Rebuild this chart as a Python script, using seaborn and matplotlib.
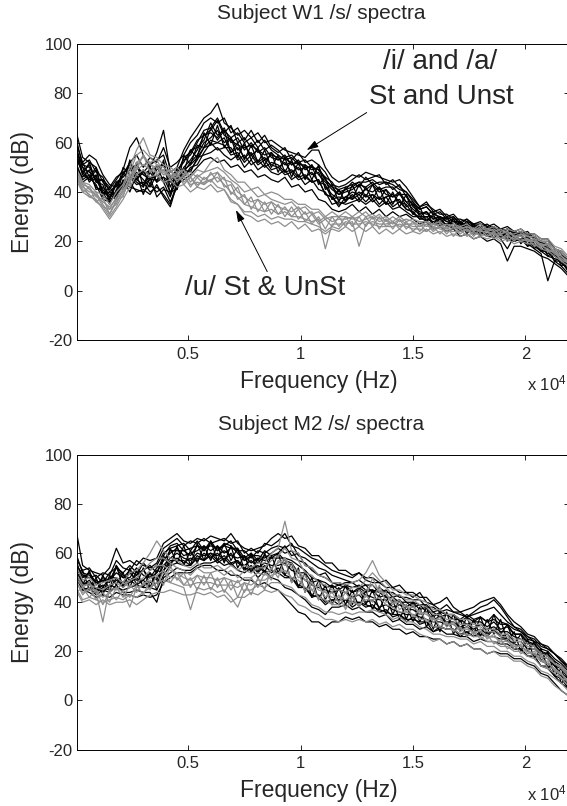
import numpy as np
import pandas as pd
import matplotlib.pyplot as plt
import seaborn as sns

# frequency grid of the spectra (Hz), one value every 300 Hz
FREQ = np.arange(0, 21901, 300)

# Subject W1, /i/ and /a/ (St and Unst) -- black
W1_IA = [
    [65, 54, 52, 50, 44, 41, 45, 49, 58, 62, 55, 50, 56, 65, 48, 50, 57, 62, 66, 70,
     72, 76, 68, 66, 63, 65, 62, 64, 60, 61, 59, 57, 56, 55, 54, 57, 57, 50, 46, 44,
     45, 47, 46, 48, 47, 46, 45, 44, 45, 42, 38, 34, 36, 32, 33, 30, 31, 28, 29, 27,
     28, 26, 27, 25, 26, 24, 25, 23, 23, 21, 21, 17, 16, 13],
    [60, 52, 55, 53, 47, 43, 42, 47, 52, 55, 50, 54, 52, 58, 50, 52, 55, 60, 63, 68,
     70, 68, 70, 64, 66, 61, 65, 60, 63, 58, 56, 58, 53, 56, 52, 53, 51, 48, 43, 42,
     43, 45, 47, 45, 46, 47, 43, 45, 42, 40, 36, 33, 34, 31, 32, 29, 30, 27, 29, 26,
     27, 25, 26, 24, 25, 23, 24, 22, 22, 20, 19, 17, 15, 12],
    [58, 50, 48, 46, 41, 38, 44, 46, 49, 51, 47, 45, 49, 52, 42, 48, 53, 55, 60, 65,
     66, 70, 64, 67, 60, 62, 58, 61, 57, 59, 57, 54, 55, 52, 53, 50, 49, 46, 44, 40,
     41, 44, 42, 46, 43, 44, 44, 41, 43, 38, 35, 33, 34, 31, 30, 29, 30, 27, 27, 26,
     26, 27, 25, 24, 25, 24, 23, 24, 21, 20, 18, 16, 14, 13],
    [56, 48, 51, 44, 43, 36, 40, 50, 47, 44, 42, 48, 44, 46, 44, 45, 50, 53, 57, 63,
     64, 62, 66, 60, 62, 57, 60, 56, 58, 54, 53, 55, 51, 53, 49, 51, 47, 44, 41, 39,
     40, 41, 43, 42, 44, 41, 42, 42, 39, 39, 34, 32, 31, 32, 29, 30, 28, 28, 26, 27,
     25, 25, 26, 23, 23, 22, 24, 22, 22, 19, 17, 15, 13, 10],
    [55, 47, 45, 49, 39, 40, 38, 43, 45, 48, 45, 42, 47, 44, 38, 46, 48, 52, 55, 60,
     62, 65, 60, 62, 57, 59, 55, 57, 53, 55, 54, 51, 52, 49, 50, 47, 48, 42, 39, 37,
     38, 40, 39, 41, 40, 42, 39, 38, 40, 36, 33, 31, 32, 29, 30, 28, 27, 26, 27, 25,
     26, 24, 24, 24, 22, 23, 22, 21, 20, 18, 16, 14, 12, 11],
    [52, 45, 47, 42, 40, 35, 41, 44, 42, 41, 40, 43, 40, 42, 36, 42, 47, 49, 53, 58,
     59, 60, 62, 56, 58, 54, 56, 52, 54, 51, 50, 52, 48, 50, 46, 48, 44, 43, 37, 38,
     37, 38, 40, 38, 39, 37, 38, 39, 36, 35, 31, 30, 30, 30, 28, 27, 28, 27, 25, 26,
     24, 25, 23, 22, 23, 21, 21, 22, 19, 17, 15, 15, 11, 9],
    [53, 50, 44, 47, 38, 37, 43, 41, 46, 43, 44, 40, 42, 39, 35, 44, 46, 50, 51, 56,
     60, 57, 58, 58, 53, 55, 51, 53, 50, 52, 51, 48, 49, 46, 47, 44, 45, 39, 38, 35,
     36, 39, 36, 39, 36, 38, 35, 36, 37, 33, 32, 29, 29, 28, 29, 26, 26, 25, 26, 24,
     23, 23, 24, 21, 17, 22, 20, 20, 18, 16, 14, 13, 12, 8],
    [50, 46, 49, 41, 42, 39, 37, 45, 40, 47, 39, 46, 38, 41, 40, 41, 49, 48, 54, 55,
     56, 58, 55, 53, 55, 50, 53, 49, 51, 48, 47, 49, 45, 47, 43, 45, 41, 40, 35, 36,
     35, 36, 37, 35, 37, 34, 36, 33, 34, 32, 30, 30, 28, 27, 27, 27, 25, 26, 24, 25,
     24, 22, 22, 23, 21, 20, 21, 19, 17, 15, 4, 12, 10, 7],
    [49, 44, 46, 43, 37, 36, 39, 42, 44, 40, 41, 39, 43, 38, 34, 43, 45, 47, 50, 53,
     54, 52, 53, 50, 51, 48, 49, 46, 47, 45, 44, 46, 42, 43, 40, 41, 37, 36, 33, 32,
     33, 35, 32, 34, 31, 33, 30, 32, 30, 31, 29, 27, 28, 25, 26, 24, 25, 22, 23, 21,
     22, 20, 21, 19, 12, 18, 18, 17, 16, 14, 13, 11, 9, 6],
    [62, 51, 50, 45, 45, 42, 46, 48, 50, 45, 48, 51, 53, 55, 46, 49, 52, 57, 58, 61,
     68, 63, 65, 62, 64, 60, 62, 58, 61, 57, 55, 53, 54, 51, 51, 49, 50, 45, 42, 41,
     42, 43, 44, 44, 45, 43, 44, 43, 41, 40, 37, 34, 35, 33, 31, 31, 29, 29, 28, 27,
     27, 26, 25, 25, 24, 24, 23, 23, 21, 20, 20, 17, 15, 12],
    [59, 47, 52, 44, 45, 37, 44, 42, 53, 45, 49, 43, 51, 44, 46, 41, 55, 51, 59, 58,
     66, 61, 65, 56, 60, 53, 59, 52, 57, 50, 55, 48, 53, 46, 51, 45, 51, 41, 43, 36,
     42, 37, 43, 38, 43, 37, 41, 35, 40, 34, 35, 30, 32, 27, 30, 26, 29, 24, 27, 23,
     26, 22, 25, 21, 24, 20, 23, 18, 21, 16, 18, 12, 14, 8],
    [53, 52, 46, 50, 39, 42, 38, 48, 45, 52, 42, 50, 44, 53, 39, 50, 48, 57, 54, 64,
     59, 67, 58, 62, 54, 60, 53, 58, 51, 56, 48, 54, 46, 52, 45, 51, 43, 46, 37, 41,
     36, 43, 37, 42, 37, 42, 35, 40, 34, 39, 31, 34, 28, 31, 26, 30, 25, 28, 23, 27,
     22, 26, 21, 25, 20, 24, 19, 22, 17, 20, 14, 16, 10, 12],
    [57, 51, 53, 48, 46, 40, 43, 47, 51, 50, 47, 49, 50, 51, 45, 47, 54, 56, 61, 63,
     65, 69, 63, 61, 59, 58, 59, 57, 55, 56, 53, 54, 51, 52, 50, 50, 49, 45, 42, 39,
     41, 42, 44, 41, 43, 40, 41, 38, 39, 36, 36, 31, 32, 29, 30, 28, 29, 26, 28, 25,
     26, 24, 25, 23, 24, 22, 23, 20, 21, 18, 18, 14, 14, 10],
    [54, 48, 45, 45, 40, 38, 40, 44, 46, 45, 43, 45, 45, 46, 40, 44, 49, 51, 54, 58,
     61, 60, 59, 55, 56, 52, 55, 51, 53, 49, 50, 47, 48, 45, 46, 44, 45, 39, 38, 34,
     38, 37, 39, 36, 39, 35, 38, 34, 36, 33, 32, 29, 30, 27, 28, 26, 27, 24, 25, 23,
     24, 22, 23, 21, 22, 20, 21, 18, 19, 16, 16, 12, 12, 8],
]

# Subject W1, /u/ (St & UnSt) -- grey
W1_U = [
    [50, 44, 43, 40, 39, 35, 40, 43, 50, 57, 62, 55, 54, 51, 50, 48, 49, 46, 49, 48,
     52, 54, 49, 47, 44, 44, 41, 42, 39, 40, 39, 37, 37, 35, 35, 33, 33, 30, 32, 30,
     32, 30, 32, 30, 31, 29, 30, 28, 30, 28, 29, 28, 28, 27, 28, 26, 27, 26, 27, 25,
     27, 25, 26, 24, 25, 24, 25, 23, 23, 21, 21, 18, 17, 14],
    [48, 43, 42, 38, 37, 33, 38, 42, 48, 55, 57, 54, 51, 50, 48, 50, 47, 48, 46, 48,
     49, 50, 48, 45, 43, 40, 41, 38, 39, 37, 36, 35, 36, 33, 34, 31, 32, 29, 30, 30,
     30, 29, 30, 32, 29, 31, 28, 30, 28, 29, 28, 26, 28, 26, 27, 25, 27, 25, 26, 24,
     26, 24, 25, 23, 24, 22, 23, 22, 22, 20, 20, 17, 16, 13],
    [47, 42, 40, 40, 35, 31, 36, 40, 46, 52, 54, 52, 53, 48, 49, 46, 49, 44, 47, 45,
     47, 48, 45, 44, 40, 38, 36, 37, 35, 36, 34, 33, 32, 34, 31, 32, 28, 30, 28, 29,
     29, 30, 28, 29, 30, 28, 29, 27, 29, 27, 27, 28, 26, 27, 26, 27, 26, 25, 26, 25,
     25, 25, 24, 25, 23, 23, 24, 22, 21, 20, 19, 17, 15, 13],
    [46, 41, 39, 36, 34, 30, 34, 39, 44, 49, 51, 49, 48, 49, 46, 47, 44, 46, 43, 44,
     45, 46, 43, 40, 38, 35, 34, 33, 32, 33, 31, 32, 30, 30, 29, 28, 29, 17, 27, 27,
     27, 28, 18, 27, 28, 27, 27, 28, 26, 27, 26, 26, 27, 25, 26, 25, 25, 26, 24, 25,
     24, 24, 23, 23, 24, 22, 22, 21, 20, 19, 18, 16, 14, 12],
    [45, 40, 38, 37, 33, 29, 33, 37, 42, 47, 49, 46, 47, 44, 45, 42, 43, 40, 42, 41,
     43, 40, 41, 36, 35, 31, 30, 28, 29, 27, 28, 26, 28, 25, 27, 24, 25, 23, 25, 24,
     26, 24, 26, 24, 26, 23, 25, 23, 25, 23, 24, 23, 25, 23, 24, 22, 23, 22, 23, 21,
     22, 21, 22, 20, 21, 19, 20, 19, 19, 17, 16, 14, 12, 10],
    [49, 44, 41, 39, 36, 34, 37, 41, 45, 50, 55, 51, 50, 47, 47, 45, 46, 43, 44, 43,
     45, 42, 41, 37, 35, 32, 32, 30, 31, 29, 30, 29, 29, 28, 28, 27, 26, 24, 26, 25,
     28, 27, 27, 28, 27, 26, 26, 26, 27, 26, 25, 25, 24, 26, 25, 24, 24, 24, 25, 23,
     23, 22, 23, 21, 22, 21, 21, 20, 20, 18, 17, 15, 13, 11],
    [48, 40, 42, 36, 38, 31, 37, 38, 47, 49, 55, 48, 51, 47, 49, 44, 47, 42, 46, 43,
     48, 44, 46, 39, 42, 35, 38, 32, 36, 31, 35, 30, 34, 29, 32, 27, 30, 25, 30, 26,
     30, 26, 30, 26, 30, 25, 29, 25, 29, 25, 28, 24, 27, 24, 26, 23, 26, 23, 25, 22,
     25, 22, 24, 21, 23, 20, 23, 20, 21, 18, 19, 15, 14, 11],
    [45, 43, 38, 39, 34, 33, 35, 41, 43, 52, 51, 52, 47, 49, 45, 48, 43, 46, 42, 46,
     44, 48, 42, 43, 37, 39, 33, 37, 32, 36, 31, 34, 30, 33, 28, 31, 27, 29, 26, 30,
     26, 30, 26, 30, 26, 30, 26, 28, 25, 28, 24, 27, 24, 26, 23, 26, 22, 25, 22, 24,
     22, 24, 21, 23, 20, 22, 20, 21, 18, 19, 16, 16, 12, 12],
]

# Subject M2, /i/ and /a/ -- black
M2_IA = [
    [70, 55, 53, 52, 51, 54, 62, 56, 57, 55, 58, 57, 58, 64, 66, 68, 65, 64, 66, 65,
     67, 66, 65, 68, 64, 62, 61, 62, 63, 66, 68, 66, 67, 63, 62, 59, 59, 56, 56, 53,
     53, 51, 52, 50, 50, 48, 49, 46, 47, 44, 44, 42, 42, 39, 40, 42, 38, 36, 37, 38,
     40, 41, 42, 39, 35, 32, 30, 27, 26, 23, 22, 19, 17, 14],
    [58, 53, 54, 50, 52, 51, 57, 54, 53, 57, 55, 54, 56, 62, 64, 66, 63, 65, 64, 66,
     64, 65, 66, 64, 65, 60, 62, 60, 64, 63, 65, 68, 63, 62, 60, 58, 57, 55, 53, 52,
     51, 50, 52, 49, 48, 48, 46, 46, 44, 44, 42, 44, 40, 39, 37, 39, 36, 36, 34, 36,
     38, 39, 41, 38, 34, 30, 29, 26, 25, 22, 21, 19, 16, 14],
    [56, 51, 50, 51, 48, 52, 54, 52, 55, 52, 53, 55, 52, 59, 63, 64, 61, 62, 63, 62,
     63, 62, 63, 65, 61, 61, 58, 61, 60, 62, 63, 62, 64, 59, 58, 56, 54, 53, 51, 50,
     49, 48, 49, 47, 47, 44, 45, 42, 43, 40, 40, 39, 39, 36, 37, 35, 35, 33, 35, 33,
     34, 32, 33, 31, 31, 29, 28, 25, 24, 21, 20, 17, 15, 12],
    [54, 50, 52, 47, 50, 49, 52, 50, 50, 54, 51, 50, 54, 57, 60, 62, 59, 60, 61, 63,
     61, 63, 60, 62, 62, 58, 60, 57, 61, 59, 60, 63, 59, 60, 55, 54, 51, 50, 48, 48,
     47, 46, 47, 45, 45, 44, 42, 42, 40, 40, 38, 39, 36, 36, 34, 35, 33, 33, 31, 32,
     32, 30, 32, 29, 30, 27, 27, 24, 23, 20, 19, 16, 14, 11],
    [53, 48, 47, 49, 46, 50, 50, 48, 52, 49, 49, 52, 49, 55, 58, 60, 58, 57, 60, 59,
     60, 59, 61, 59, 58, 59, 56, 58, 57, 58, 58, 58, 57, 55, 53, 50, 49, 48, 46, 47,
     46, 44, 45, 43, 42, 41, 41, 38, 39, 37, 37, 35, 36, 33, 34, 32, 32, 30, 31, 29,
     31, 29, 30, 28, 28, 26, 25, 23, 22, 19, 18, 15, 13, 10],
    [52, 47, 49, 45, 47, 46, 49, 47, 48, 50, 47, 48, 50, 53, 56, 58, 56, 58, 57, 60,
     58, 60, 57, 60, 56, 55, 57, 54, 56, 55, 55, 56, 53, 52, 49, 47, 46, 45, 44, 45,
     44, 42, 43, 40, 41, 38, 39, 37, 36, 35, 35, 34, 33, 32, 32, 31, 31, 29, 30, 28,
     29, 27, 29, 26, 27, 24, 24, 21, 21, 18, 17, 14, 11, 9],
    [50, 46, 45, 46, 44, 47, 46, 45, 46, 47, 46, 46, 45, 51, 55, 56, 55, 55, 58, 57,
     59, 56, 58, 55, 57, 54, 53, 55, 52, 53, 52, 50, 50, 47, 46, 43, 42, 39, 41, 41,
     41, 40, 40, 39, 38, 37, 36, 35, 35, 33, 33, 32, 32, 30, 30, 29, 29, 27, 28, 26,
     27, 26, 26, 25, 25, 23, 22, 20, 19, 16, 15, 12, 10, 7],
    [51, 45, 46, 43, 45, 44, 47, 44, 44, 45, 44, 44, 40, 50, 52, 54, 53, 53, 55, 56,
     56, 57, 55, 56, 53, 52, 54, 50, 53, 50, 49, 46, 45, 43, 41, 38, 37, 35, 38, 38,
     39, 37, 38, 36, 36, 34, 35, 32, 33, 31, 31, 29, 30, 28, 29, 27, 27, 26, 26, 24,
     25, 24, 24, 23, 23, 21, 21, 18, 18, 14, 13, 10, 7, 5],
    [50, 45, 44, 42, 43, 42, 44, 43, 43, 42, 43, 42, 43, 48, 50, 52, 52, 52, 54, 55,
     55, 53, 53, 51, 51, 49, 49, 47, 48, 46, 45, 42, 39, 36, 35, 32, 32, 30, 32, 32,
     34, 33, 34, 32, 32, 30, 31, 29, 29, 27, 28, 26, 26, 25, 25, 23, 24, 22, 23, 21,
     21, 19, 20, 19, 19, 17, 17, 15, 14, 11, 10, 7, 4, 2],
    [60, 52, 51, 48, 49, 48, 55, 51, 49, 51, 56, 53, 55, 60, 62, 63, 64, 61, 65, 61,
     65, 61, 64, 63, 60, 57, 59, 59, 58, 60, 62, 60, 61, 57, 56, 53, 51, 52, 48, 47,
     48, 48, 46, 47, 44, 46, 44, 44, 42, 42, 41, 41, 38, 38, 36, 37, 36, 35, 34, 35,
     36, 37, 38, 35, 32, 30, 28, 26, 24, 23, 21, 19, 16, 13],
    [58, 47, 53, 44, 51, 45, 55, 46, 54, 47, 54, 46, 53, 52, 62, 56, 63, 55, 64, 57,
     65, 57, 64, 57, 62, 53, 60, 52, 60, 53, 60, 51, 56, 46, 52, 42, 49, 41, 47, 40,
     47, 39, 46, 39, 45, 37, 43, 35, 41, 33, 40, 32, 38, 29, 36, 30, 35, 28, 34, 27,
     34, 27, 35, 27, 31, 23, 27, 20, 24, 16, 20, 10, 13, 5],
    [52, 53, 45, 50, 43, 51, 47, 52, 46, 53, 46, 52, 45, 59, 54, 63, 55, 61, 56, 63,
     57, 63, 56, 63, 54, 59, 52, 58, 52, 59, 52, 58, 48, 54, 44, 50, 41, 47, 39, 46,
     39, 45, 38, 45, 37, 43, 35, 41, 33, 39, 32, 38, 30, 35, 28, 36, 27, 33, 26, 33,
     26, 33, 27, 33, 24, 28, 20, 25, 17, 21, 13, 16, 7, 10],
    [56, 50, 52, 48, 49, 49, 54, 50, 53, 51, 53, 50, 52, 57, 61, 61, 61, 59, 63, 61,
     64, 61, 63, 62, 61, 57, 59, 56, 59, 58, 60, 57, 56, 52, 52, 48, 49, 46, 47, 45,
     47, 44, 46, 44, 45, 42, 43, 40, 41, 38, 40, 37, 38, 34, 36, 35, 35, 32, 34, 32,
     34, 32, 35, 32, 31, 27, 27, 23, 23, 19, 19, 14, 13, 9],
    [53, 47, 48, 44, 46, 45, 50, 46, 49, 47, 49, 46, 48, 53, 57, 57, 57, 55, 59, 57,
     60, 57, 59, 56, 57, 53, 55, 52, 55, 52, 54, 51, 50, 46, 46, 42, 43, 40, 41, 39,
     41, 38, 40, 38, 39, 36, 37, 34, 35, 32, 34, 31, 32, 28, 30, 29, 29, 26, 28, 26,
     28, 26, 29, 26, 25, 21, 21, 18, 18, 14, 14, 10, 9, 5],
]

# Subject M2, /u/ -- grey
M2_U = [
    [55, 49, 50, 47, 48, 49, 50, 48, 52, 53, 56, 60, 65, 61, 58, 57, 55, 54, 56, 54,
     54, 55, 53, 55, 53, 55, 54, 56, 56, 60, 62, 73, 61, 60, 55, 54, 51, 50, 48, 48,
     47, 48, 49, 52, 57, 51, 48, 45, 45, 43, 43, 41, 40, 37, 37, 35, 35, 33, 33, 31,
     31, 29, 29, 27, 27, 25, 25, 23, 22, 19, 18, 15, 14, 11],
    [52, 47, 47, 46, 45, 47, 48, 46, 49, 50, 53, 56, 58, 58, 56, 54, 53, 51, 54, 52,
     52, 53, 51, 53, 50, 53, 52, 54, 54, 57, 59, 62, 58, 57, 52, 51, 48, 47, 45, 45,
     44, 46, 46, 49, 52, 49, 46, 43, 43, 41, 41, 39, 38, 35, 35, 33, 33, 31, 31, 30,
     30, 28, 28, 26, 26, 24, 24, 22, 21, 18, 17, 15, 13, 10],
    [50, 46, 48, 44, 32, 46, 45, 48, 46, 48, 50, 53, 55, 55, 53, 52, 50, 49, 51, 50,
     50, 49, 50, 49, 48, 50, 50, 52, 51, 54, 56, 58, 54, 53, 49, 48, 45, 44, 42, 42,
     41, 43, 43, 45, 47, 45, 43, 40, 40, 38, 38, 36, 35, 33, 33, 31, 31, 29, 29, 28,
     28, 26, 26, 24, 24, 22, 22, 20, 19, 16, 15, 13, 11, 8],
    [48, 44, 45, 45, 42, 44, 46, 44, 38, 46, 47, 50, 51, 53, 50, 50, 47, 47, 48, 48,
     48, 47, 47, 47, 46, 48, 47, 49, 49, 51, 52, 53, 50, 49, 46, 45, 42, 41, 39, 39,
     38, 40, 39, 41, 41, 42, 39, 38, 36, 36, 35, 33, 33, 30, 30, 29, 29, 27, 27, 26,
     26, 24, 24, 22, 22, 20, 20, 18, 17, 14, 13, 11, 9, 6],
    [46, 41, 42, 41, 40, 41, 42, 41, 43, 42, 44, 46, 48, 49, 48, 47, 46, 37, 46, 45,
     46, 44, 45, 42, 38, 45, 45, 47, 46, 48, 48, 47, 46, 43, 42, 39, 38, 36, 36, 35,
     36, 35, 36, 36, 37, 36, 35, 33, 34, 32, 32, 30, 29, 27, 27, 26, 26, 25, 25, 23,
     24, 22, 22, 20, 20, 18, 18, 16, 15, 12, 11, 9, 7, 4],
    [45, 40, 41, 39, 41, 39, 40, 40, 41, 39, 41, 43, 44, 44, 45, 44, 43, 43, 44, 43,
     44, 42, 43, 40, 42, 42, 44, 43, 45, 44, 45, 43, 42, 39, 38, 36, 35, 33, 33, 32,
     33, 32, 33, 32, 33, 31, 32, 30, 31, 29, 29, 27, 26, 24, 25, 23, 24, 22, 23, 21,
     21, 19, 20, 18, 18, 16, 16, 14, 13, 10, 9, 6, 4, 2],
    [49, 43, 46, 41, 44, 40, 46, 42, 47, 44, 48, 45, 51, 47, 55, 49, 52, 46, 51, 47,
     52, 46, 50, 45, 49, 44, 50, 46, 52, 49, 57, 55, 56, 50, 51, 45, 47, 42, 44, 40,
     44, 40, 45, 42, 50, 44, 44, 39, 41, 36, 39, 35, 36, 32, 34, 30, 32, 28, 30, 27,
     29, 25, 27, 23, 25, 21, 23, 19, 20, 16, 16, 12, 11, 7],
    [44, 46, 42, 45, 39, 44, 41, 45, 42, 47, 43, 49, 46, 53, 48, 52, 47, 50, 45, 51,
     45, 50, 44, 49, 42, 48, 43, 50, 45, 54, 50, 58, 48, 53, 44, 48, 41, 45, 39, 43,
     37, 42, 38, 43, 40, 47, 40, 42, 37, 39, 34, 37, 32, 34, 30, 32, 28, 30, 26, 28,
     25, 27, 23, 25, 21, 23, 19, 21, 17, 18, 13, 13, 9, 8],
]

XTICKS = [5000, 10000, 15000, 20000]
XTICK_LABELS = ['0.5', '1', '1.5', '2']
YTICKS = [-20, 0, 20, 40, 60, 80, 100]

TITLES = ['Subject W1 /s/ spectra', 'Subject M2 /s/ spectra']


def long_table(ia, u):
    rows = []
    for group, spectra in (('ia', ia), ('u', u)):
        for k, values in enumerate(spectra):
            assert len(values) == len(FREQ), (group, k, len(values))
            for f, e in zip(FREQ, values):
                rows.append((f, e, group, f'{group}{k}'))
    return pd.DataFrame(rows, columns=['freq', 'energy', 'vowel', 'token'])


sns.set_style('white')
plt.rcParams['font.family'] = ['Liberation Sans', 'DejaVu Sans']
plt.rcParams['mathtext.fontset'] = 'custom'
plt.rcParams['mathtext.rm'] = 'Liberation Sans'
plt.rcParams['mathtext.default'] = 'regular'
plt.rcParams['axes.unicode_minus'] = False

fig = plt.figure(figsize=(5.67, 8.06), dpi=100)
W, H = 567, 806
x0, x1 = 77, 568.5
panels = [
    (W1_IA, W1_U, 44, 340),
    (M2_IA, M2_U, 455, 749.5),
]

axes = []
for (ia, u, top, bottom), title in zip(panels, TITLES):
    hgt = bottom - top
    ax = fig.add_axes([x0 / W, 1 - bottom / H, (x1 - x0) / W, hgt / H])
    df = long_table(ia, u)
    sns.lineplot(data=df, x='freq', y='energy', hue='vowel', hue_order=['ia', 'u'],
                 palette={'ia': 'black', 'u': '#8e8e8e'}, units='token',
                 estimator=None, sort=False, lw=0.9, legend=False, ax=ax)
    ax.set_xlim(50, 21920)
    ax.set_ylim(-20, 100)
    ax.set_xticks(XTICKS)
    ax.set_xticklabels(XTICK_LABELS)
    ax.set_yticks(YTICKS)
    ax.tick_params(direction='in', length=3.6, width=0.6, color='black',
                   top=True, right=True, bottom=True, left=True, labelsize=12)
    ax.tick_params(axis='x', pad=5)
    ax.tick_params(axis='y', pad=3.5)
    for s in ax.spines.values():
        s.set_linewidth(0.7)
        s.set_color('black')

    ax.set_title(title, fontsize=15, x=(321 - x0) / (x1 - x0),
                 y=1 + 22 / hgt, va='center')
    ax.set_xlabel('Frequency (Hz)', fontsize=16.5)
    ax.xaxis.set_label_coords((319 - x0) / (x1 - x0), -(41.5 if top < 100 else 40.5) / hgt)
    ax.xaxis.label.set_va('center')
    ax.set_ylabel('Energy (dB)', fontsize=16.5)
    ax.yaxis.set_label_coords((22 - x0) / (x1 - x0), 0.5)
    ax.yaxis.label.set_va('center')
    ax.text((527 - x0) / (x1 - x0), -(43 if top < 100 else 43.5) / hgt, 'x 10$^{4}$',
            transform=ax.transAxes, fontsize=12, ha='left', va='center')
    axes.append(ax)

ax = axes[0]
arrow = dict(arrowstyle='-|>,head_length=0.7,head_width=0.22', lw=0.7, color='black',
             shrinkA=0, shrinkB=0)
ax.annotate('', xy=(10269, 57.0), xytext=(12939, 72.2), arrowprops=arrow)
ax.annotate('', xy=(7123, 32.7), xytext=(8516, 7.7), arrowprops=arrow)
ax.text(16196, 92.7, '/i/ and /a/', fontsize=20, ha='center', va='center')
ax.text(16240, 78.5, 'St and Unst', fontsize=20, ha='center', va='center')
ax.text(8436, 1.1, '/u/ St & UnSt', fontsize=20, ha='center', va='center')

fig.savefig('out.png', dpi=100)
